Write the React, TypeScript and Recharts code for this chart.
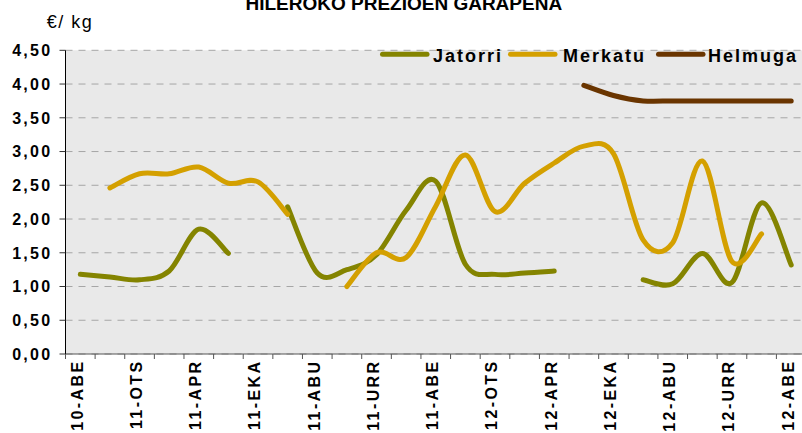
import { LineChart, Line, XAxis, YAxis, CartesianGrid, Legend } from 'recharts';

const months = [
  '10-ABE', '11-URT', '11-OTS', '11-MAR', '11-APR', '11-MAI', '11-EKA', '11-UZT', '11-ABU',
  '11-IRA', '11-URR', '11-AZA', '11-ABE', '12-URT', '12-OTS', '12-MAR', '12-APR', '12-MAI',
  '12-EKA', '12-UZT', '12-ABU', '12-IRA', '12-URR', '12-AZA', '12-ABE',
];

// €/kg, null = no data that month
const jatorri = [
  1.18, 1.14, 1.10, 1.23, 1.85, 1.49, null, 2.18, 1.20, 1.25, 1.47, 2.13, 2.56,
  1.33, 1.18, 1.20, 1.23, null, null, 1.10, 1.04, 1.49, 1.06, 2.24, 1.32,
];
const merkatu = [
  null, 2.46, 2.67, 2.67, 2.77, 2.53, 2.55, 2.07, null, 1.00, 1.50, 1.43, 2.19,
  2.95, 2.11, 2.53, 2.83, 3.08, 2.97, 1.69, 1.65, 2.86, 1.37, 1.78, null,
];
const helmuga = [
  null, null, null, null, null, null, null, null, null, null, null, null, null,
  null, null, null, null, 3.98, 3.83, 3.75, 3.75, 3.75, 3.75, 3.75, 3.75,
];

const yTicks = [0, 0.5, 1, 1.5, 2, 2.5, 3, 3.5, 4, 4.5];

const series = [
  { key: 'jatorri', name: 'Jatorri', color: '#848400' },
  { key: 'merkatu', name: 'Merkatu', color: '#d4a000' },
  { key: 'helmuga', name: 'Helmuga', color: '#6a3500' },
];

const rows = months.map((month, i) => ({
  month,
  jatorri: jatorri[i],
  merkatu: merkatu[i],
  helmuga: helmuga[i],
}));

const FONT = 'Arial, "Liberation Sans", sans-serif';
const AXIS_Y = 354;
const HALF_BAND = 14.8;

// excel-like smoothed line (catmull-rom through the points)
const smooth = (context: any) => {
  let pts: number[][] = [];
  return {
    areaStart() {},
    areaEnd() {},
    lineStart() {
      pts = [];
    },
    point(x: number, y: number) {
      pts.push([+x, +y]);
    },
    lineEnd() {
      if (!pts.length) return;
      context.moveTo(pts[0][0], pts[0][1]);
      if (pts.length === 1) {
        context.lineTo(pts[0][0] + 0.1, pts[0][1]);
        return;
      }
      for (let i = 0; i < pts.length - 1; i++) {
        const p0 = pts[Math.max(i - 1, 0)];
        const p1 = pts[i];
        const p2 = pts[i + 1];
        const p3 = pts[Math.min(i + 2, pts.length - 1)];
        context.bezierCurveTo(
          p1[0] + (p2[0] - p0[0]) / 6,
          p1[1] + (p2[1] - p0[1]) / 6,
          p2[0] - (p3[0] - p1[0]) / 6,
          p2[1] - (p3[1] - p1[1]) / 6,
          p2[0],
          p2[1]
        );
      }
    },
  };
};

function MonthTick(props: any) {
  const { x, index, payload } = props;
  const tx = x + 2.4;
  return (
    <g>
      <line x1={x - HALF_BAND} x2={x - HALF_BAND} y1={AXIS_Y} y2={AXIS_Y + 5} stroke="#555" />
      {index === months.length - 1 && (
        <line x1={x + HALF_BAND} x2={x + HALF_BAND} y1={AXIS_Y} y2={AXIS_Y + 5} stroke="#555" />
      )}
      {index % 2 === 0 && (
        <text
          x={tx}
          y={359.5}
          transform={`rotate(-90 ${tx} 359.5)`}
          textAnchor="end"
          fontFamily={FONT}
          fontSize={16}
          fontWeight="bold"
          letterSpacing={2.4}
          fill="#000"
        >
          {payload.value}
        </text>
      )}
    </g>
  );
}

function ValueTick(props: any) {
  const { x, y, payload } = props;
  return (
    <text
      x={x}
      y={y}
      dy="0.36em"
      textAnchor="end"
      fontFamily={FONT}
      fontSize={16}
      fontWeight="bold"
      letterSpacing={2.3}
      fill="#000"
    >
      {payload.value.toFixed(2).replace('.', ',')}
    </text>
  );
}

function LegendBox() {
  const items = [
    { line: 10, text: 63 },
    { line: 138, text: 193 },
    { line: 286, text: 338 },
  ];
  return (
    <svg width={432} height={30} style={{ display: 'block' }}>
      {series.map((s, i) => (
        <g key={s.key}>
          <line
            x1={items[i].line + 2.5}
            x2={items[i].line + 47}
            y1={14.3}
            y2={14.3}
            stroke={s.color}
            strokeWidth={5}
            strokeLinecap="round"
          />
          <text
            x={items[i].text}
            y={21.5}
            fontFamily={FONT}
            fontSize={18}
            fontWeight="bold"
            letterSpacing={2}
            fill="#000"
          >
            {s.name}
          </text>
        </g>
      ))}
    </svg>
  );
}

export default function App() {
  return (
    <div
      style={{
        position: 'absolute',
        left: 0,
        top: 0,
        width: 802,
        height: 433,
        overflow: 'hidden',
        background: '#fff',
        fontFamily: FONT,
      }}
    >
      <LineChart width={806} height={433} data={rows} margin={{ top: 50.3, right: 0, bottom: 0, left: 0 }}>
        <CartesianGrid vertical={false} stroke="#a6a6a6" strokeDasharray="7 6" fill="#e9e9e9" />
        <XAxis
          dataKey="month"
          interval={0}
          height={79}
          padding={{ left: HALF_BAND, right: HALF_BAND }}
          tickLine={false}
          axisLine={{ stroke: '#555' }}
          tick={(p: any) => <MonthTick {...p} />}
        />
        <YAxis
          width={65.5}
          domain={[0, 4.5]}
          ticks={yTicks}
          interval={0}
          tickSize={6}
          tickMargin={7}
          tickLine={{ stroke: '#333' }}
          axisLine={{ stroke: '#000' }}
          tick={(p: any) => <ValueTick {...p} />}
        />
        <Legend
          verticalAlign="middle"
          align="center"
          layout="horizontal"
          wrapperStyle={{ top: 40, left: 370, width: 432, height: 30 }}
          content={() => <LegendBox />}
        />
        {series.map((s) => (
          <Line
            key={s.key}
            dataKey={s.key}
            name={s.name}
            type={smooth as any}
            stroke={s.color}
            strokeWidth={5}
            strokeLinecap="round"
            strokeLinejoin="round"
            dot={false}
            activeDot={false}
            connectNulls={false}
            isAnimationActive={false}
          />
        ))}
      </LineChart>
      <svg width={802} height={40} style={{ position: 'absolute', left: 0, top: 0, pointerEvents: 'none' }}>
        <text x={403.8} y={10} textAnchor="middle" fontFamily={FONT} fontSize={19} fontWeight="bold" fill="#000">
          HILEROKO PREZIOEN GARAPENA
        </text>
        <text x={46.7} y={28.3} fontFamily={FONT} fontSize={18} letterSpacing={1.5} fill="#000">
          €/ kg
        </text>
      </svg>
    </div>
  );
}
